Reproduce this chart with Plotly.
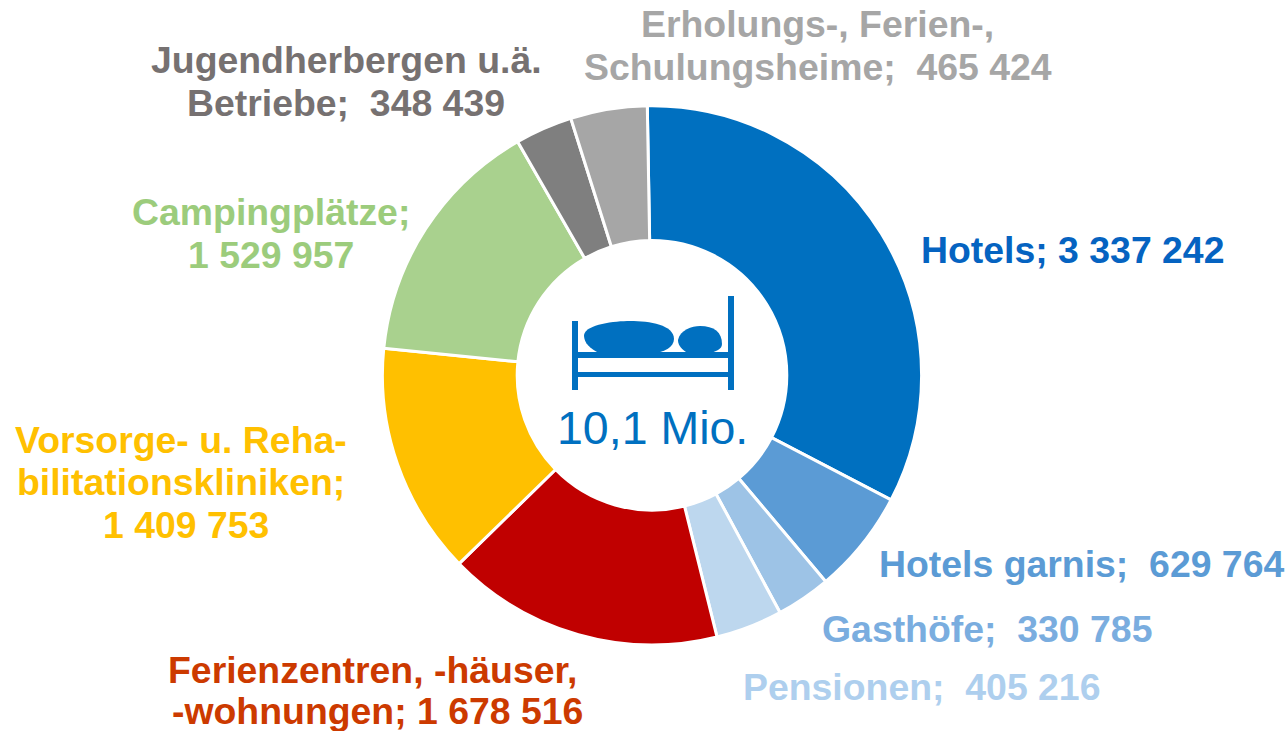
import plotly.graph_objects as go

categories = ["Hotels", "Hotels garnis", "Gasthöfe", "Pensionen", "Ferienzentren, -häuser, -wohnungen",
              "Vorsorge- u. Rehabilitationskliniken", "Campingplätze", "Jugendherbergen u.ä. Betriebe",
              "Erholungs-, Ferien-, Schulungsheime"]
values = [3337242, 629764, 330785, 405216, 1678516, 1409753, 1529957, 348439, 465424]
colors = ["#0070C0", "#5B9BD5", "#9DC3E6", "#BDD7EE", "#C00000", "#FFC000", "#A9D18E", "#7F7F7F", "#A6A6A6"]
labels = [
    ("Hotels; 3 337 242", 1072, 250, "#0563C1"),
    ("Hotels garnis;  629 764", 1081, 564, "#5B9BD5"),
    ("Gasthöfe;  330 785", 987, 629, "#7AADDF"),
    ("Pensionen;  405 216", 921, 687, "#AECFEE"),
    ("Ferienzentren, -häuser,", 372, 670, "#CC3A00"),
    ("-wohnungen; 1 678 516", 377, 711, "#CC3A00"),
    ("Vorsorge- u. Reha-", 181, 440, "#FFC000"),
    ("bilitationskliniken;", 181, 482, "#FFC000"),
    ("1 409 753", 186, 525, "#FFC000"),
    ("Campingplätze;", 271, 212, "#9CCC7C"),
    ("1 529 957", 271, 255, "#9CCC7C"),
    ("Jugendherbergen u.ä.", 346, 60, "#767171"),
    ("Betriebe;  348 439", 346, 103, "#767171"),
    ("Erholungs-, Ferien-,", 818, 24, "#A6A6A6"),
    ("Schulungsheime;  465 424", 818, 67, "#A6A6A6"),
]
W, H = 1288, 731
cx, cy, r = 652, 375.3, 269.6

fig = go.Figure(go.Pie(
    labels=categories, values=values, hole=0.5, sort=False, direction="clockwise", rotation=-1.0,
    marker=dict(colors=colors, line=dict(color="white", width=3)),
    textinfo="none", hoverinfo="label+value", showlegend=False,
    domain=dict(x=[(cx - r) / W, (cx + r) / W], y=[1 - (cy + r) / H, 1 - (cy - r) / H]),
))
for text, x, y, c in labels:
    fig.add_annotation(x=x / W, y=1 - y / H, xref="paper", yref="paper", text=text, showarrow=False,
                       font=dict(family="Liberation Sans", size=37.4, color=c, weight="bold"),
                       xanchor="center", yanchor="middle", align="center")
fig.add_annotation(x=652 / W, y=1 - 428 / H, xref="paper", yref="paper", text="10,1 Mio.", showarrow=False,
                   font=dict(family="Liberation Sans", size=46.5, color="#0070C0"), xanchor="center", yanchor="middle")

bed = "#0070C0"
def X(v):
    return v / W
def Y(v):
    return 1 - v / H
for (x0, x1), (y0, y1) in [((572, 578), (321, 390)), ((728, 734), (296, 390)),
                           ((578, 728), (372, 377)), ((578, 728), (352, 358))]:
    fig.add_shape(type="rect", xref="paper", yref="paper", x0=X(x0), x1=X(x1), y0=Y(y0), y1=Y(y1),
                  fillcolor=bed, line=dict(width=0))
def blob(pts):
    s = f"M {X(pts[0][0])} {Y(pts[0][1])}"
    for i in range(1, len(pts), 3):
        s += " C " + " ".join(f"{X(a)} {Y(b)}" for a, b in pts[i:i + 3])
    return s + " Z"
pillow_big = [(597, 352), (586, 346), (584, 340), (584, 335), (586, 324), (615, 321), (630, 321),
              (650, 321), (674, 325), (674, 339), (674, 347), (664, 352), (655, 353)]
pillow_small = [(686, 352), (680, 348), (678, 344), (678, 340), (680, 330), (692, 326), (700, 326),
                (714, 326), (722, 332), (722, 344), (722, 349), (716, 352), (708, 353)]
for pts in (pillow_big, pillow_small):
    fig.add_shape(type="path", xref="paper", yref="paper", path=blob(pts), fillcolor=bed, line=dict(width=0))

fig.update_layout(width=W, height=H, margin=dict(l=0, r=0, t=0, b=0), paper_bgcolor="white", autosize=False)
fig.write_html("out.html", config=dict(displayModeBar=False),
               post_script="document.body.style.margin='0';document.body.style.overflow='hidden';")
